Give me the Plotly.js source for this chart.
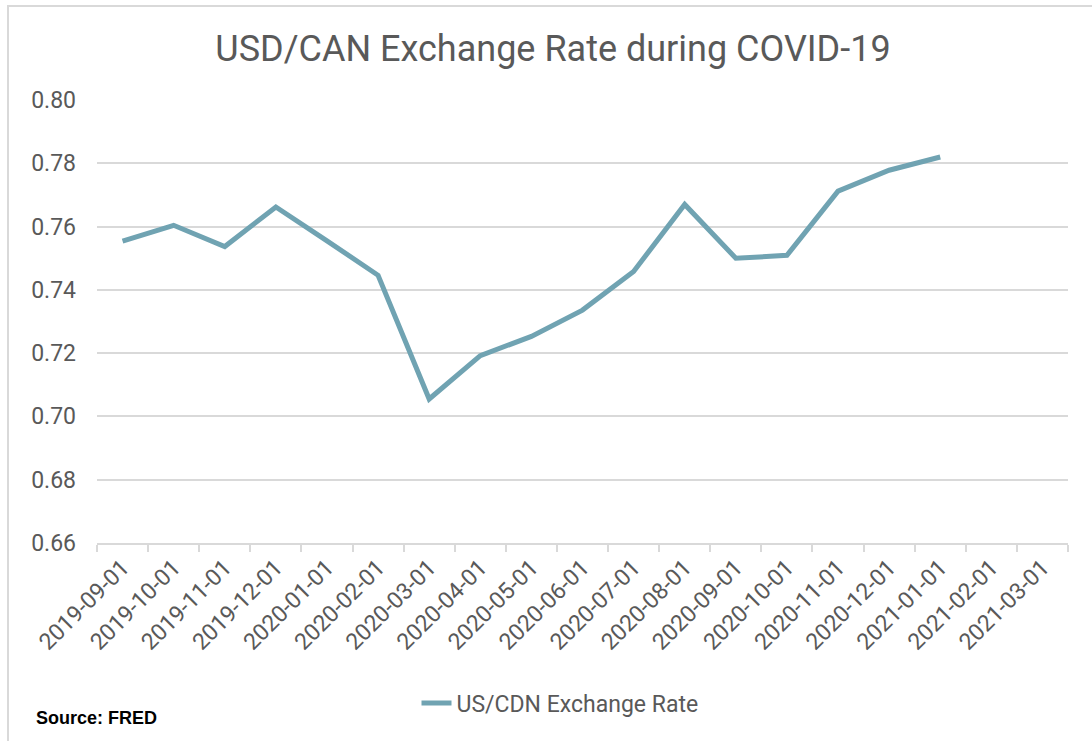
<!DOCTYPE html>
<html>
<head>
<meta charset="utf-8">
<script src="https://cdn.plot.ly/plotly-3.0.1.min.js"></script>
<style>
  html, body { margin: 0; padding: 0; background: #ffffff; overflow: hidden; }
  #frame { position: absolute; left: 7px; top: 5px; width: 1200px; height: 900px;
           border-left: 2px solid #d9d9d9; border-top: 2px solid #d9d9d9; }
  #chart { position: absolute; left: 0; top: 0; width: 1092px; height: 741px; }
</style>
</head>
<body>
<div id="frame"></div>
<div id="chart"></div>
<script>
// Categories (monthly dates)
const months = [
  "2019-09-01","2019-10-01","2019-11-01","2019-12-01","2020-01-01","2020-02-01",
  "2020-03-01","2020-04-01","2020-05-01","2020-06-01","2020-07-01","2020-08-01",
  "2020-09-01","2020-10-01","2020-11-01","2020-12-01","2021-01-01","2021-02-01",
  "2021-03-01"
];
// US/CDN exchange rate values
const rate = [
  0.7554, 0.7604, 0.7537, 0.7662, 0.7555, 0.7446,
  0.7055, 0.7192, 0.7253, 0.7336, 0.7458, 0.7670,
  0.7500, 0.7509, 0.7712, 0.7778, 0.7820, null,
  null
];
const seriesName = "US/CDN Exchange Rate";
const chartTitle = "USD/CAN Exchange Rate during COVID-19";
const sourceNote = "Source: FRED";

const font = "Roboto, 'Liberation Sans', Arial, sans-serif";
const grey = "#595959";
const gridGrey = "#d9d9d9";

const W = 1092, H = 741;
const mL = 97, mR = 24, mT = 100, mB = 198;

const trace = {
  x: months,
  y: rate,
  type: "scatter",
  mode: "lines",
  name: seriesName,
  line: { color: "#70a3b2", width: 5 },
  connectgaps: false,
  hoverinfo: "x+y"
};

const layout = {
  width: W, height: H,
  margin: { l: mL, r: mR, t: mT, b: mB, pad: 0 },
  paper_bgcolor: "rgba(0,0,0,0)",
  plot_bgcolor: "rgba(0,0,0,0)",
  font: { family: font, color: grey },
  title: {
    text: chartTitle,
    font: { family: font, size: 36, color: grey },
    xref: "container", x: 553 / W, xanchor: "center",
    yref: "container", y: 1 - 48 / H, yanchor: "middle"
  },
  xaxis: {
    type: "category",
    range: [-0.5, months.length - 0.5],
    tickson: "boundaries",
    ticks: "outside", ticklen: 7, tickwidth: 2, tickcolor: gridGrey,
    showline: true, linecolor: gridGrey, linewidth: 2,
    showgrid: false, zeroline: false,
    tickangle: -45,
    tickfont: { family: font, size: 23, color: grey },
    fixedrange: true
  },
  yaxis: {
    range: [0.66, 0.80],
    dtick: 0.02, tick0: 0.66,
    tickformat: ".2f",
    showgrid: true, gridcolor: gridGrey, gridwidth: 2,
    zeroline: false, showline: false,
    ticks: "", ticklabelstandoff: 20,
    tickfont: { family: font, size: 23, color: grey },
    fixedrange: true
  },
  showlegend: true,
  legend: {
    orientation: "h",
    xref: "paper", x: (560 - mL) / (W - mL - mR), xanchor: "center",
    yref: "paper", y: ((H - mB) - 703) / (H - mT - mB), yanchor: "middle",
    font: { family: font, size: 23, color: grey },
    bgcolor: "rgba(0,0,0,0)"
  },
  annotations: [{
    text: "<b>" + sourceNote + "</b>",
    xref: "paper", yref: "paper",
    x: (34 - mL) / (W - mL - mR), xanchor: "left",
    y: ((H - mB) - 718) / (H - mT - mB), yanchor: "middle",
    showarrow: false,
    font: { family: "'Liberation Sans', Arial, sans-serif", size: 18, color: "#000000" }
  }]
};

Plotly.newPlot("chart", [trace], layout, { displayModeBar: false, staticPlot: true });
</script>
</body>
</html>
